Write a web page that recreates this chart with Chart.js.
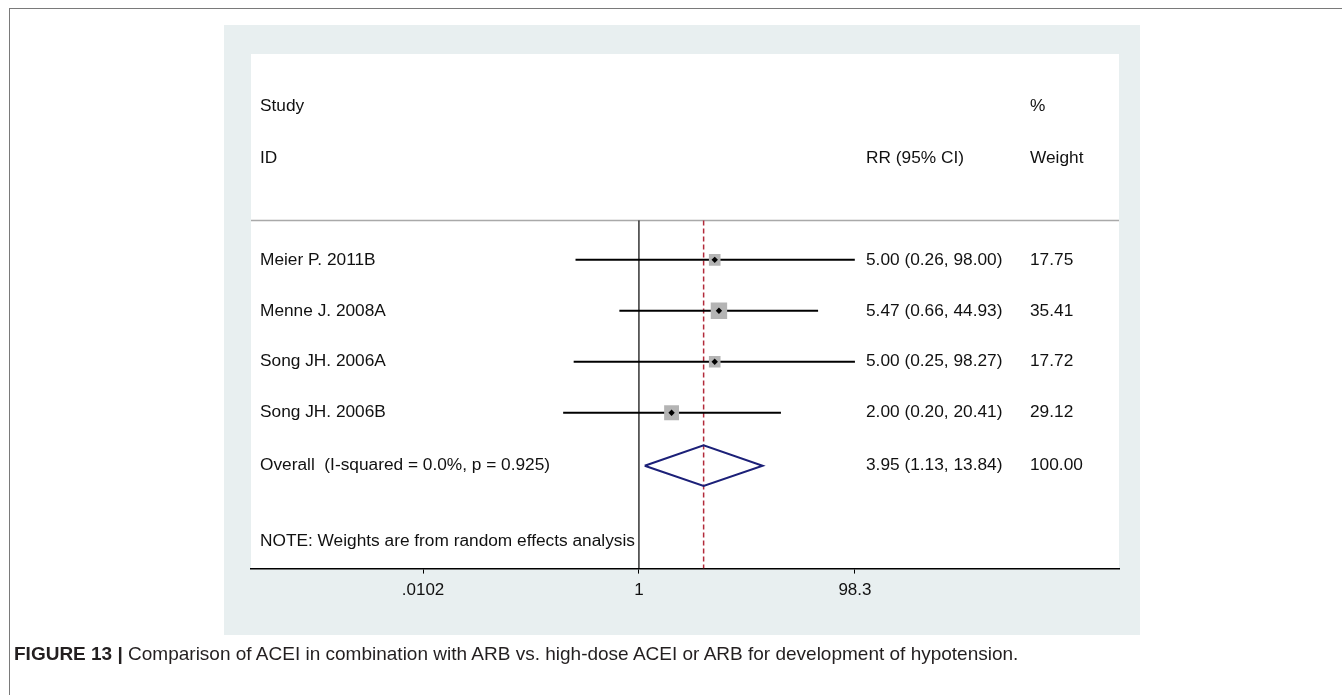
<!DOCTYPE html>
<html>
<head>
<meta charset="utf-8">
<script src="https://cdn.jsdelivr.net/npm/chart.js@4.4.1/dist/chart.umd.min.js"></script>
<style>
  html, body { margin: 0; padding: 0; background: #ffffff; }
  body { width: 1342px; height: 695px; position: relative; overflow: hidden; font-family: "Liberation Sans", Arial, sans-serif; }
  #frame { position: absolute; left: 9px; top: 8px; width: 1340px; height: 700px; border-top: 1px solid #7a7a7a; border-left: 1px solid #7a7a7a; }
  #wrap { position: absolute; left: 0; top: 0; width: 1342px; height: 695px; }
  #caption { position: absolute; left: 14px; top: 643px; font-size: 19px; color: #231f20; white-space: nowrap; }
  #caption b { font-weight: bold; }
</style>
</head>
<body>
<div id="wrap"><canvas id="c" width="1342" height="695"></canvas></div>
<div id="frame"></div>
<div id="caption"><b>FIGURE 13 |</b> Comparison of ACEI in combination with ARB vs. high-dose ACEI or ARB for development of hypotension.</div>
<script>
// ---- data ----
const studies = ["Meier P. 2011B", "Menne J. 2008A", "Song JH. 2006A", "Song JH. 2006B"];
const rr      = [5.00, 5.47, 5.00, 2.00];
const ciLow   = [0.26, 0.66, 0.25, 0.20];
const ciHigh  = [98.00, 44.93, 98.27, 20.41];
const weights = [17.75, 35.41, 17.72, 29.12];
const ciText  = ["5.00 (0.26, 98.00)", "5.47 (0.66, 44.93)", "5.00 (0.25, 98.27)", "2.00 (0.20, 20.41)"];
const weightText = ["17.75", "35.41", "17.72", "29.12"];
const overallLabel = "Overall  (I-squared = 0.0%, p = 0.925)";
const overallRR = 3.95, overallLow = 1.13, overallHigh = 13.84;
const overallCIText = "3.95 (1.13, 13.84)";
const overallWeightText = "100.00";
const tickValues = [0.0102, 1, 98.3];
const tickLabels = [".0102", "1", "98.3"];
const noteText = "NOTE: Weights are from random effects analysis";

// ---- layout (row positions in y-scale units) ----
const Y = { min: -0.06, max: 10.04, study0: 6, overall: 1.96, header1: 9.02, header2: 8.0, sep: 6.77, note: 0.47, diamondHalf: 0.40 };
const X = { min: 0.000264, max: 26800 };
const FONT = '17.3px "Liberation Sans", Arial, sans-serif';

const rowY = studies.map((s, i) => Y.study0 - i);

const datasets = [];
// point estimates (small black diamonds)
datasets.push({
  type: 'scatter', order: 0,
  data: rr.map((v, i) => ({ x: v, y: rowY[i] })),
  pointStyle: 'rectRot', pointRadius: 3.2, pointHoverRadius: 3.2,
  backgroundColor: '#000', borderColor: '#000', borderWidth: 0
});
// weight boxes
datasets.push({
  type: 'scatter', order: 1,
  data: rr.map((v, i) => ({ x: v, y: rowY[i] })),
  pointStyle: 'rect',
  pointRadius: weights.map(w => 1.95 * Math.sqrt(w)),
  pointHoverRadius: weights.map(w => 1.95 * Math.sqrt(w)),
  backgroundColor: '#b4b4b4', borderColor: '#b4b4b4', borderWidth: 0
});
// CI lines
studies.forEach((s, i) => {
  datasets.push({
    type: 'line', order: 2,
    data: [{ x: ciLow[i], y: rowY[i] }, { x: ciHigh[i], y: rowY[i] }],
    borderColor: '#000', borderWidth: 2, pointRadius: 0, fill: false
  });
});
// overall diamond
datasets.push({
  type: 'line', order: 2,
  data: [
    { x: overallLow, y: Y.overall },
    { x: overallRR, y: Y.overall + Y.diamondHalf },
    { x: overallHigh, y: Y.overall },
    { x: overallRR, y: Y.overall - Y.diamondHalf },
    { x: overallLow, y: Y.overall }
  ],
  borderColor: '#1c2078', borderWidth: 2, pointRadius: 0, fill: false, tension: 0
});
// null line at 1
datasets.push({
  type: 'line', order: 3,
  data: [{ x: 1, y: Y.sep }, { x: 1, y: Y.min }],
  borderColor: '#000', borderWidth: 1.2, pointRadius: 0, fill: false
});
// overall effect dashed line
datasets.push({
  type: 'line', order: 3,
  data: [{ x: overallRR, y: Y.sep }, { x: overallRR, y: Y.min }],
  borderColor: '#b22a3a', borderWidth: 1.5, borderDash: [5, 3], pointRadius: 0, fill: false
});

const bgPlugin = {
  id: 'bg',
  beforeDraw(chart) {
    const { ctx, chartArea: a } = chart;
    ctx.save();
    ctx.fillStyle = '#ffffff';
    ctx.fillRect(0, 0, chart.width, chart.height);
    ctx.fillStyle = '#e8eff0';
    ctx.fillRect(224, 25, 916, 610);
    ctx.fillStyle = '#ffffff';
    ctx.fillRect(a.left, a.top, a.right - a.left, a.bottom - a.top);
    // header separator
    const ys = chart.scales.y.getPixelForValue(Y.sep);
    ctx.strokeStyle = '#a9a9a9';
    ctx.lineWidth = 1.5;
    ctx.beginPath();
    ctx.moveTo(a.left, ys);
    ctx.lineTo(a.right, ys);
    ctx.stroke();
    ctx.restore();
  }
};

const textPlugin = {
  id: 'texts',
  afterDatasetsDraw(chart) {
    const { ctx, chartArea: a } = chart;
    const yS = chart.scales.y;
    const colLabel = a.left + 9, colCI = a.left + 615, colW = a.left + 779;
    ctx.save();
    ctx.font = FONT;
    ctx.fillStyle = '#111';
    ctx.textBaseline = 'middle';
    ctx.textAlign = 'left';
    const put = (t, x, v) => ctx.fillText(t, x, yS.getPixelForValue(v));
    put('Study', colLabel, Y.header1);
    put('ID', colLabel, Y.header2);
    put('RR (95% CI)', colCI, Y.header2);
    put('%', colW, Y.header1);
    put('Weight', colW, Y.header2);
    studies.forEach((s, i) => {
      put(s, colLabel, rowY[i]);
      put(ciText[i], colCI, rowY[i]);
      put(weightText[i], colW, rowY[i]);
    });
    put(overallLabel, colLabel, Y.overall);
    put(overallCIText, colCI, Y.overall);
    put(overallWeightText, colW, Y.overall);
    put(noteText, colLabel, Y.note);
    ctx.restore();
  }
};

new Chart(document.getElementById('c'), {
  type: 'scatter',
  data: { datasets },
  options: {
    responsive: false,
    animation: false,
    events: [],
    layout: { padding: { left: 251, right: 223, top: 54, bottom: 87 } },
    plugins: { legend: { display: false }, tooltip: { enabled: false } },
    scales: {
      x: {
        type: 'logarithmic', min: X.min, max: X.max,
        afterBuildTicks(scale) { scale.ticks = tickValues.map(v => ({ value: v })); },
        ticks: {
          autoSkip: false, maxRotation: 0, padding: 7, color: '#111',
          font: { family: '"Liberation Sans", Arial, sans-serif', size: 17 },
          callback: (v, i) => tickLabels[i]
        },
        grid: { display: true, drawOnChartArea: false, drawTicks: true, tickLength: 5, color: '#000', tickWidth: 1 },
        border: { display: true, color: '#000', width: 1.5 }
      },
      y: { type: 'linear', min: Y.min, max: Y.max, display: false }
    }
  },
  plugins: [bgPlugin, textPlugin]
});
</script>
</body>
</html>
